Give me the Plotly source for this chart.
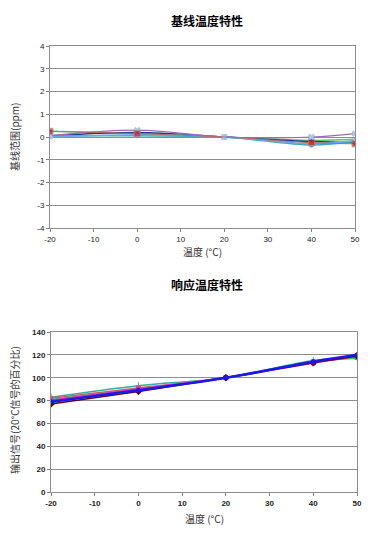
import plotly.graph_objects as go

temps = [-20, 0, 20, 40, 50]

# Baseline temperature characteristic (ppm)
base_red = [0.25, 0.15, 0.0, -0.25, -0.3]
base_purple = [0.05, 0.3, 0.0, 0.0, 0.15]
base_green = [0.25, 0.15, 0.0, -0.15, -0.1]
base_teal = [0.05, 0.05, 0.0, -0.35, -0.2]
base_navy = [0.05, 0.2, 0.0, -0.2, -0.25]
base_lblue = [0.0, 0.1, 0.0, -0.3, -0.15]

# Response temperature characteristic (% of 20°C signal)
resp_maroon = [77, 88, 100, 113, 119]
resp_teal = [83, 93, 100, 115, 118]
resp_red = [82, 91, 100, 114, 118]
resp_green = [81, 90, 100, 114, 117]
resp_cyan = [78, 90, 100, 114, 119]
resp_magenta = [80, 90, 100, 113, 119]
resp_blue = [79, 89, 100, 114, 120]

xticks = [-20, -10, 0, 10, 20, 30, 40, 50]
xticklabels = ["-20", "-10", "0", "10", "20", "30", "40", "50"]
top_yticks = [-4, -3, -2, -1, 0, 1, 2, 3, 4]
top_yticklabels = ["-4", "-3", "-2", "-1", "0", "1", "2", "3", "4"]
bot_yticks = [0, 20, 40, 60, 80, 100, 120, 140]

fig = go.Figure()

top_series = [
    (base_green, "#5cbf7a", "triangle-up", 4, 1.5),
    (base_navy, "#1f3a8a", "diamond", 4, 1.5),
    (base_teal, "#3fa7b5", "circle", 5, 1.5),
    (base_lblue, "#6fa8dc", "x", 5, 1.5),
    (base_purple, "#9b6bb5", "x", 6, 1.2),
    (base_red, "#b07070", "square", [6, 6, 0, 6, 6], 1.0),
]
for ys, col, sym, sz, w in top_series:
    mcol = "#d01010" if sym == "square" else ("#a9c4ee" if sym == "x" else col)
    fig.add_trace(go.Scatter(
        x=temps, y=ys, mode="lines+markers", line=dict(color=col, width=w, shape="spline"),
        marker=dict(symbol=sym, size=sz, color=mcol), xaxis="x", yaxis="y", showlegend=False))

bot_series = [
    (resp_teal, "#3aa8a0", "line-ns", 5, 1.5),
    (resp_red, "#c06060", "square", 4, 1.5),
    (resp_green, "#40c060", "triangle-up", 4, 1.5),
    (resp_cyan, "#20d0e0", "circle", 4, 1.5),
    (resp_magenta, "#e020e0", "square", 4, 2),
    (resp_maroon, "#600020", "diamond", 5, 1.5),
    (resp_blue, "#1a1ae0", "circle", 4, 2.5),
]
for ys, col, sym, sz, w in bot_series:
    fig.add_trace(go.Scatter(
        x=temps, y=ys, mode="lines+markers", line=dict(color=col, width=w, shape="spline"),
        marker=dict(symbol=sym, size=sz, color=col, line=dict(color=col, width=1)),
        xaxis="x2", yaxis="y2", showlegend=False))

axis_common = dict(showline=True, linecolor="#8c8c8c", linewidth=1, mirror=True,
                   ticks="outside", ticklen=3, tickcolor="#808080", automargin=False,
                   zeroline=False, fixedrange=True)

fig.update_layout(
    template="none",
    width=383, height=538,
    margin=dict(l=0, r=0, t=0, b=0),
    paper_bgcolor="white", plot_bgcolor="white",
    font=dict(family="Liberation Sans, Arial, sans-serif", color="#222"),
    xaxis=dict(domain=[50/383, 355/383], anchor="y", range=[-20, 50], tickvals=xticks, ticktext=xticklabels,
               showgrid=False, tickfont=dict(size=8), **axis_common),
    yaxis=dict(domain=[1-228/538, 1-46/538], anchor="x", range=[-4, 4], tickvals=top_yticks, ticktext=top_yticklabels,
               showgrid=True, gridcolor="#8e8e8e", gridwidth=1, tickfont=dict(size=8), **axis_common),
    xaxis2=dict(domain=[51/383, 357/383], anchor="y2", range=[-20, 50], tickvals=xticks, ticktext=xticklabels,
                showgrid=False, tickfont=dict(size=8, weight="bold"), **axis_common),
    yaxis2=dict(domain=[1-492/538, 1-332/538], anchor="x2", range=[0, 140], tickvals=bot_yticks,
                showgrid=True, gridcolor="#8e8e8e", gridwidth=1, tickfont=dict(size=8, weight="bold"), **axis_common),
)

cjk = "Noto Sans CJK SC, sans-serif"
ann = [
    dict(text="<b>基线温度特性</b>", x=207/383, y=1-20/538, font=dict(size=12, family=cjk, color="#000")),
    dict(text="温度 (°C)", x=202/383, y=1-252/538, font=dict(size=10, family=cjk, color="#333")),
    dict(text="基线范围(ppm)", x=14/383, y=1-137/538, textangle=-90, font=dict(size=10, family=cjk, color="#333")),
    dict(text="<b>响应温度特性</b>", x=207/383, y=1-284/538, font=dict(size=12, family=cjk, color="#000")),
    dict(text="温度 (°C)", x=204/383, y=1-518/538, font=dict(size=10, family=cjk, color="#333")),
    dict(text="输出信号(20°C信号的百分比)", x=14/383, y=1-410/538, textangle=-90, font=dict(size=10, family=cjk, color="#333")),
]
for a in ann:
    fig.add_annotation(xref="paper", yref="paper", showarrow=False, xanchor="center", yanchor="middle", **a)

fig.write_html("out.html", config={"displayModeBar": False},
               post_script="document.body.style.margin='0px';document.body.style.overflow='hidden';")
